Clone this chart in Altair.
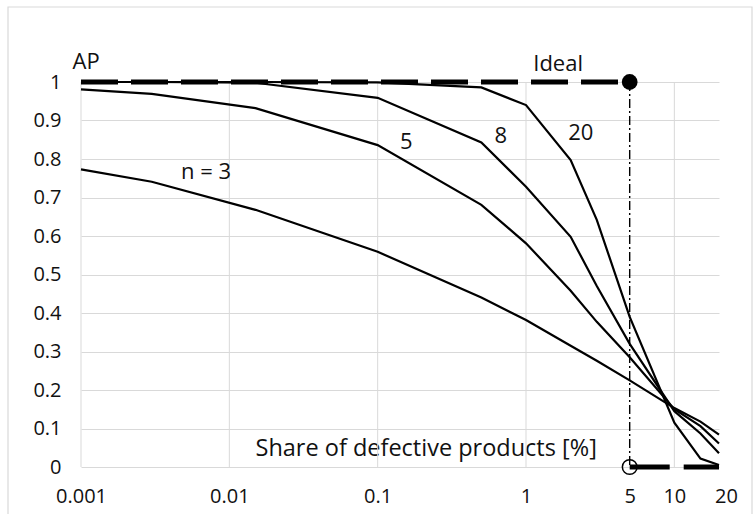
import altair as alt
import pandas as pd

# ---------------- data ----------------
share = [0.001, 0.003, 0.015, 0.1, 0.5, 1, 2, 3, 5, 10, 15, 20]
ap_n3 = [0.773, 0.741, 0.668, 0.559, 0.440, 0.382, 0.315, 0.276, 0.225, 0.153, 0.118, 0.084]
ap_n5 = [0.981, 0.969, 0.932, 0.836, 0.681, 0.581, 0.458, 0.377, 0.285, 0.150, 0.106, 0.061]
ap_n8 = [1.000, 1.000, 0.998, 0.959, 0.843, 0.728, 0.598, 0.470, 0.320, 0.145, 0.087, 0.036]
ap_n20 = [1.000, 1.000, 1.000, 0.999, 0.986, 0.940, 0.797, 0.642, 0.390, 0.115, 0.022, 0.005]
series_names = ["n = 3", "5", "8", "20"]

ideal_top_x = [0.001, 5]
ideal_top_y = [1, 1]
ideal_bottom_x = [5, 20]
ideal_bottom_y = [0, 0]
threshold_x = [5, 5]
threshold_y = [1, 0]

decades = [0.001, 0.01, 0.1, 1, 10]
x_tick_values = [0.001, 0.01, 0.1, 1, 5, 10, 20]
y_tick_values = [0, 0.1, 0.2, 0.3, 0.4, 0.5, 0.6, 0.7, 0.8, 0.9, 1]

label_text = ["n = 3", "5", "8", "20", "Ideal"]
label_x = [0.00697, 0.156, 0.676, 2.34, 1.646]
label_y = [0.767, 0.845, 0.861, 0.867, 1.047]

# ---------------- tables ----------------
rows = []
for name, vals in zip(series_names, [ap_n3, ap_n5, ap_n8, ap_n20]):
    for xv, yv in zip(share, vals):
        rows.append({"share": xv, "ap": yv, "n": name})
curves_df = pd.DataFrame(rows)
top_df = pd.DataFrame({"share": ideal_top_x, "ap": ideal_top_y})
bottom_df = pd.DataFrame({"share": ideal_bottom_x, "ap": ideal_bottom_y})
thr_df = pd.DataFrame({"share": threshold_x, "ap": threshold_y})
dec_df = pd.DataFrame({"share": decades})
lab_df = pd.DataFrame({"share": label_x, "ap": label_y, "text": label_text})
one_df = pd.DataFrame({"a": [0]})

FONT = "Open Sans"
INK = "#111111"
GRID = "#d9d9d9"

xscale = alt.Scale(type="log", domain=[0.001, 20], nice=False)
yscale = alt.Scale(domain=[0, 1], nice=False)

x_axis = alt.Axis(
    values=x_tick_values, format="~g", grid=False, domain=False, ticks=False,
    labelFont=FONT, labelFontSize=20, labelColor=INK, labelPadding=29,
    labelBaseline="middle", labelFlush=False, labelOverlap=False,
    labelOffset={"condition": {"test": "datum.value == 20", "value": 7}, "value": 0},
    title="Share of defective products [%]", titleFont=FONT, titleFontSize=23.5,
    titleFontWeight="normal", titleColor=INK, titleX=174, titleY=-19,
    titleAlign="left", titleBaseline="middle", titleAnchor="start",
)
y_axis = alt.Axis(
    values=y_tick_values, format="~g", grid=True, gridColor=GRID, gridWidth=1,
    domain=False, ticks=False, labelFont=FONT, labelFontSize=20, labelColor=INK,
    labelPadding=20, labelOverlap=False, labelFlush=False,
    title="AP", titleFont=FONT, titleFontSize=22, titleFontWeight="normal",
    titleColor=INK, titleAngle=0, titleX=-9, titleY=-21, titleAlign="left",
    titleBaseline="middle",
)


def xenc():
    return alt.X("share:Q", scale=xscale, axis=x_axis)


def yenc():
    return alt.Y("ap:Q", scale=yscale, axis=y_axis)


border = alt.Chart(one_df).mark_rect(
    filled=False, stroke=GRID, strokeWidth=1.2
).encode(
    x=alt.value(-73), x2=alt.value(671), y=alt.value(-75), y2=alt.value(460)
)

grid_v = alt.Chart(dec_df).mark_rule(color=GRID, strokeWidth=1).encode(
    x=xenc(), y=alt.value(0), y2=alt.value(385),
)

curves = alt.Chart(curves_df).mark_line(color="black", strokeWidth=2.2).encode(
    x=xenc(), y=yenc(), detail="n:N",
)

top_line = alt.Chart(top_df).mark_line(
    color="black", strokeWidth=5, strokeDash=[37, 13]
).encode(x=xenc(), y=yenc())

bottom_line = alt.Chart(bottom_df).mark_line(
    color="black", strokeWidth=5, strokeDash=[40, 14]
).encode(x=xenc(), y=yenc())

thr_line = alt.Chart(thr_df).mark_line(
    color="black", strokeWidth=1.4, strokeDash=[9, 3, 2, 3]
).encode(x=xenc(), y=yenc())

dot_filled = alt.Chart(top_df.tail(1)).mark_point(
    filled=True, color="black", size=250, opacity=1
).encode(x=xenc(), y=yenc())

dot_open = alt.Chart(bottom_df.head(1)).mark_point(
    filled=False, color="black", size=215, strokeWidth=1.5, opacity=1
).encode(x=xenc(), y=yenc())

labels = alt.Chart(lab_df).mark_text(
    font=FONT, fontSize=22, color=INK, align="center", baseline="middle"
).encode(x=xenc(), y=yenc(), text="text:N")

chart = alt.layer(
    border, grid_v, curves, thr_line, top_line, bottom_line,
    dot_filled, dot_open, labels
).properties(
    width=638, height=385,
    autosize=alt.AutoSizeParams(type="none"),
    padding={"left": 81, "top": 82, "right": 34, "bottom": 47},
    background="white",
).configure_view(stroke=None)

chart.save("out.html", embed_options={"renderer": "svg", "actions": False})
